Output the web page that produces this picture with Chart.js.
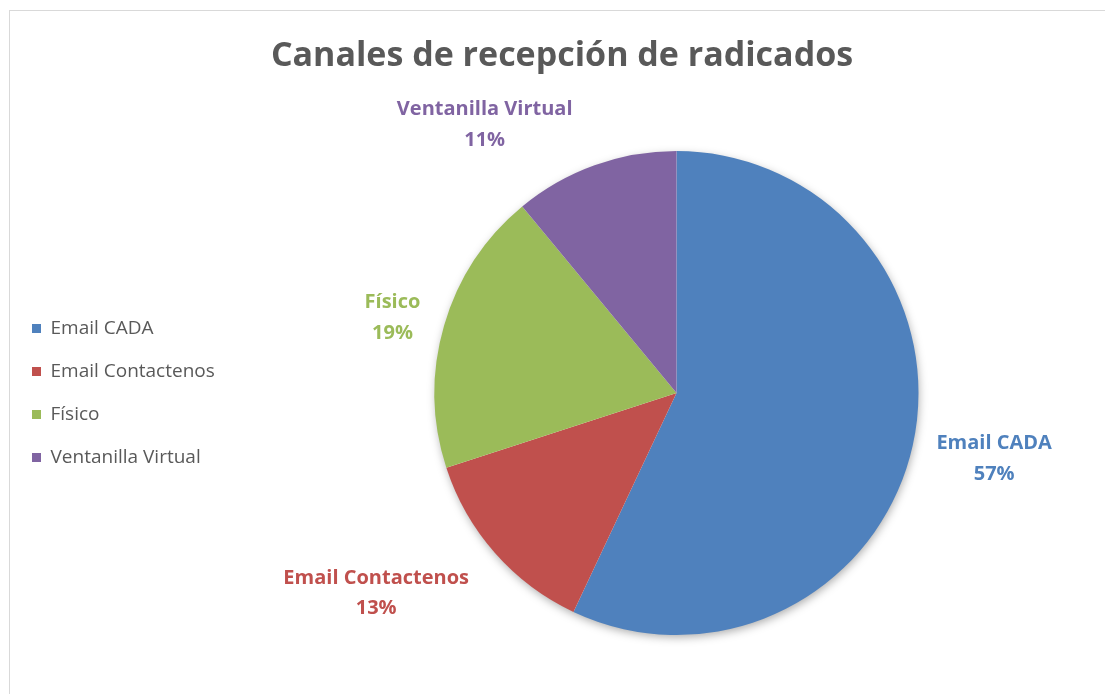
<!DOCTYPE html>
<html>
<head>
<meta charset="utf-8">
<script src="https://cdn.jsdelivr.net/npm/chart.js@4.4.1/dist/chart.umd.min.js"></script>
<style>
  html, body { margin: 0; padding: 0; background: #fff; }
  #wrap { position: relative; width: 1105px; height: 694px; }
</style>
</head>
<body>
<div id="wrap"><canvas id="c" width="1105" height="694"></canvas></div>
<script>
const titleText = 'Canales de recepción de radicados';
const categories = ['Email CADA', 'Email Contactenos', 'Físico', 'Ventanilla Virtual'];
const values = [57, 13, 19, 11];
const colors = ['#4F81BD', '#C0504D', '#9BBB59', '#8064A2'];
const labelColors = ['#4F81BD', '#C0504D', '#9BBB59', '#8064A2'];

// label placement tweaks (angle offset in degrees, distance factor of radius)
const labelPlacement = [
  { da: -1, k: 1.34 },
  { da: 7.8, k: 1.49 },
  { da: -1.2, k: 1.215 },
  { da: -15.7, k: 1.365 }
];
const LEGEND_WIDTH = 240;
const FONT = '"Open Sans", Lato, sans-serif';

const borderPlugin = {
  id: 'frame',
  beforeDraw(chart) {
    const ctx = chart.ctx;
    ctx.save();
    ctx.fillStyle = '#fff';
    ctx.fillRect(0, 0, chart.width, chart.height);
    ctx.strokeStyle = '#d9d9d9';
    ctx.lineWidth = 1;
    ctx.strokeRect(9.5, 10.5, 1200, 1000);
    ctx.restore();
  }
};

const legendWidthPlugin = {
  id: 'legendWidth',
  beforeLayout(chart) {
    const lg = chart.legend;
    if (lg && !lg._fixedWidth) {
      const f = lg.fit;
      lg.fit = function () { f.call(this); this.width = LEGEND_WIDTH; };
      lg._fixedWidth = true;
    }
  }
};

const shadowPlugin = {
  id: 'pieShadow',
  beforeDatasetsDraw(chart) {
    const arcs = chart.getDatasetMeta(0).data;
    if (!arcs.length) return;
    const a = arcs[0];
    const ctx = chart.ctx;
    ctx.save();
    ctx.shadowColor = 'rgba(0,0,0,0.35)';
    ctx.shadowBlur = 10;
    ctx.shadowOffsetX = 1;
    ctx.shadowOffsetY = 3;
    ctx.fillStyle = '#ffffff';
    ctx.beginPath();
    ctx.arc(a.x, a.y, a.outerRadius - 1, 0, Math.PI * 2);
    ctx.fill();
    ctx.restore();
  }
};

const labelPlugin = {
  id: 'sliceLabels',
  afterDatasetsDraw(chart) {
    const meta = chart.getDatasetMeta(0);
    const ctx = chart.ctx;
    const total = values.reduce((s, v) => s + v, 0);
    ctx.save();
    ctx.font = 'bold 20px ' + FONT;
    ctx.textAlign = 'center';
    ctx.textBaseline = 'middle';
    meta.data.forEach((arc, i) => {
      const mid = (arc.startAngle + arc.endAngle) / 2 + labelPlacement[i].da * Math.PI / 180;
      const r = arc.outerRadius * labelPlacement[i].k;
      const x = arc.x + Math.cos(mid) * r;
      const y = arc.y + Math.sin(mid) * r;
      ctx.fillStyle = labelColors[i];
      ctx.fillText(categories[i], x, y - 14.5);
      ctx.fillText(Math.round(values[i] / total * 100) + '%', x, y + 16);
    });
    ctx.restore();
  }
};

new Chart(document.getElementById('c'), {
  type: 'pie',
  data: {
    labels: categories,
    datasets: [{
      data: values,
      backgroundColor: colors,
      borderWidth: 0,
      hoverOffset: 0
    }]
  },
  plugins: [borderPlugin, legendWidthPlugin, shadowPlugin, labelPlugin],
  options: {
    responsive: false,
    animation: false,
    events: [],
    layout: { padding: { top: 30, bottom: 59, left: 8, right: -11 } },
    plugins: {
      title: {
        display: true,
        text: titleText,
        color: '#595959',
        font: { family: FONT, size: 34, weight: 'bold', lineHeight: 1.2 },
        padding: { top: 6, bottom: 74.2 }
      },
      legend: {
        position: 'left',
        fullSize: false,
        labels: {
          color: '#595959',
          font: { family: FONT, size: 19 },
          boxWidth: 9,
          boxHeight: 9,
          padding: 24
        }
      },
      tooltip: { enabled: false }
    }
  }
});
</script>
</body>
</html>
